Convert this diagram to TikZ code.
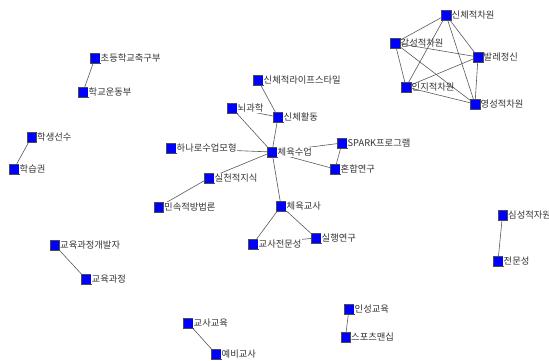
\documentclass[tikz,border=0pt]{standalone}
\usepackage{fontspec}
\setmainfont{Noto Sans CJK KR}
\usetikzlibrary{backgrounds}
\tikzset{
  vtx/.style={draw=black!70, fill=blue, minimum size=9.5pt, inner sep=0pt, line width=0.3pt},
  lbl/.style={font=\fontsize{9.3}{10}\selectfont, text=black!80, inner sep=0.6pt, fill=white},
  lblx/.style={lbl, fill=none},
  edge/.style={draw=black!65, line width=0.6pt}
}
\begin{document}
\begin{tikzpicture}[x=1pt, y=-1pt]
\useasboundingbox (0,0) rectangle (549,361);
\clip (0,0) rectangle (549,361);
% cluster of five dimensions
\node [vtx, label={[lblx]right:신체적차원}] (sinche) at (446,15) {};
\node [vtx, label={[lblx]right:감성적차원}] (gamseong) at (395,43) {};
\node [vtx, label={[lblx]right:발레정신}] (ballet) at (478,57) {};
\node [vtx, label={[lblx]right:인지적차원}] (inji) at (406,87) {};
\node [vtx, label={[lblx]right:영성적차원}] (yeongseong) at (475,104) {};
\begin{scope}[on background layer]
\foreach \a/\b in {sinche/gamseong, sinche/ballet, sinche/inji, sinche/yeongseong,
  gamseong/ballet, gamseong/inji, gamseong/yeongseong,
  ballet/inji, ballet/yeongseong, inji/yeongseong}
  \draw [edge] (\a) -- (\b);
\end{scope}

% small pairs
\node [vtx, label={[lbl]right:초등학교축구부}] (chukgubu) at (95,58) {};
\node [vtx, label={[lbl]right:학교운동부}] (undongbu) at (83,92) {};
\node [vtx, label={[lbl]right:학생선수}] (seonsu) at (31.5,137) {};
\node [vtx, label={[lbl]right:학습권}] (hakseupgwon) at (14,169) {};
\node [vtx, label={[lbl]right:교육과정개발자}] (gaebalja) at (54.5,245) {};
\node [vtx, label={[lbl]right:교육과정}] (gwajeong) at (86,279) {};
\node [vtx, label={[lbl]right:심성적자원}] (simseong) at (502.5,215) {};
\node [vtx, label={[lbl]right:전문성}] (jeonmun) at (498,261) {};
\node [vtx, label={[lbl]right:인성교육}] (inseong) at (349,309) {};
\node [vtx, label={[lbl]right:스포츠맨십}] (sportsman) at (345.5,337) {};
\node [vtx, label={[lbl]right:교사교육}] (gyosagyoyuk) at (188,323) {};
\node [vtx, label={[lbl]right:예비교사}] (yebi) at (216,354) {};
\begin{scope}[on background layer]
\foreach \a/\b in {chukgubu/undongbu, seonsu/hakseupgwon, gaebalja/gwajeong,
  simseong/jeonmun, inseong/sportsman, gyosagyoyuk/yebi}
  \draw [edge] (\a) -- (\b);
\end{scope}

% physical education class
\node [vtx, label={[lbl]right:신체적라이프스타일}] (lifestyle) at (258,80) {};
\node [vtx, label={[lbl]right:뇌과학}] (noegwahak) at (232,108) {};
\node [vtx, label={[lbl]right:신체활동}] (hwaldong) at (278,117) {};
\node [vtx, label={[lbl]right:하나로수업모형}] (hanaro) at (171,148) {};
\node [vtx, label={[lbl]right:체육수업}] (sueop) at (272,152) {};
\node [vtx, label={[lbl]right:SPARK프로그램}] (spark) at (342,143) {};
\node [vtx, label={[lbl]right:혼합연구}] (honhap) at (335,169) {};
\node [vtx, label={[lbl]right:실천적지식}] (silcheon) at (209,178) {};
\node [vtx, label={[lbl]right:민속적방법론}] (minsok) at (158.5,207) {};
\node [vtx, label={[lbl]right:체육교사}] (gyosa) at (281,206) {};
\node [vtx, label={[lbl]right:교사전문성}] (jeonmunseong) at (253,244) {};
\node [vtx, label={[lbl]right:실행연구}] (silhaeng) at (316,238) {};
\begin{scope}[on background layer]
\foreach \a/\b in {lifestyle/hwaldong, noegwahak/hwaldong, hwaldong/sueop,
  noegwahak/sueop, hanaro/sueop, sueop/spark, sueop/honhap, spark/honhap,
  sueop/silcheon, silcheon/minsok, sueop/gyosa, gyosa/jeonmunseong,
  gyosa/silhaeng, jeonmunseong/silhaeng}
  \draw [edge] (\a) -- (\b);
\end{scope}
\end{tikzpicture}
\end{document}
